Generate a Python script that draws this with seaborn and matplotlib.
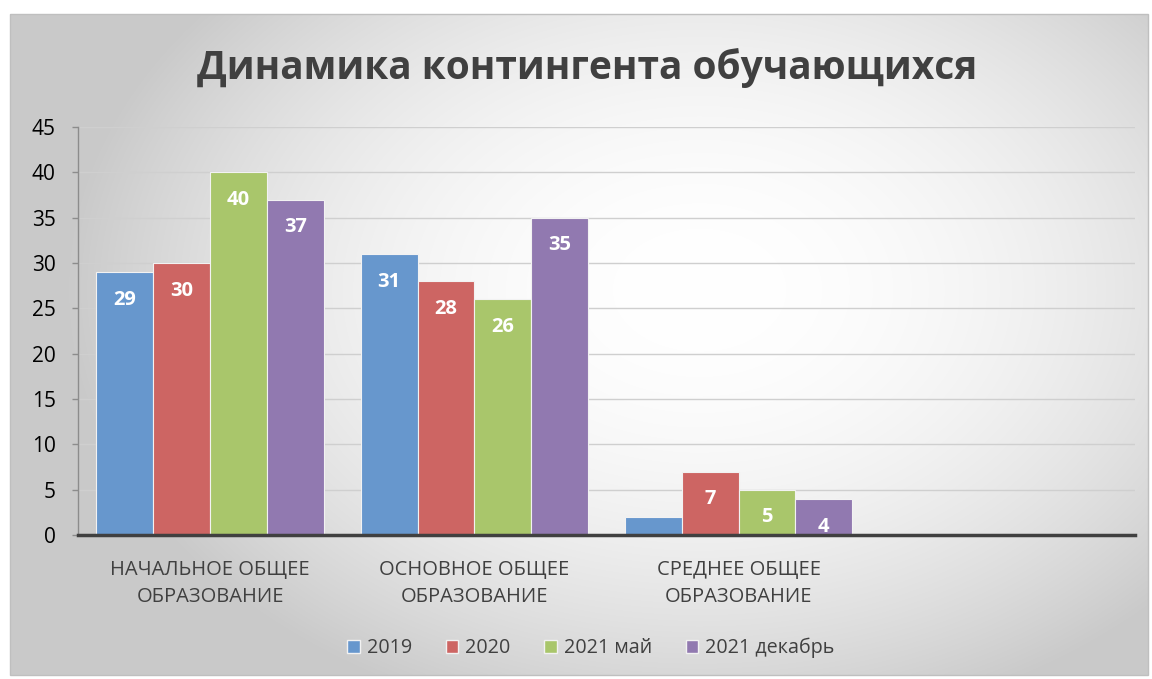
import numpy as np
import pandas as pd
import matplotlib
matplotlib.use("Agg")
import matplotlib.pyplot as plt
import seaborn as sns
from matplotlib.patches import Rectangle

categories = ["НАЧАЛЬНОЕ ОБЩЕЕ\nОБРАЗОВАНИЕ", "ОСНОВНОЕ ОБЩЕЕ\nОБРАЗОВАНИЕ",
              "СРЕДНЕЕ ОБЩЕЕ\nОБРАЗОВАНИЕ", " "]
series = ["2019", "2020", "2021 май", "2021 декабрь"]
v2019 = [29, 31, 2]
v2020 = [30, 28, 7]
v2021_may = [40, 26, 5]
v2021_dec = [37, 35, 4]
colors = ["#6797cd", "#cd6563", "#a9c66b", "#9179b0"]
title = "Динамика контингента обучающихся"

rows = []
for s, vals in zip(series, [v2019, v2020, v2021_may, v2021_dec]):
    for c, v in zip(categories[:3], vals):
        rows.append({"cat": c, "series": s, "value": v})
df = pd.DataFrame(rows)

sns.set_theme(style="white")
plt.rcParams["font.family"] = ["Open Sans", "DejaVu Sans"]

W, H = 1152, 679
fig = plt.figure(figsize=(W / 100, H / 100), dpi=100)
fig.patch.set_facecolor("white")

# gradient background of chart area
bg = fig.add_axes([0, 0, 1, 1], zorder=-10)
bg.set_axis_off()
x0, y0, x1, y1 = 10, 14, 1148, 675
xs = np.linspace(x0, x1, 400)
ys = np.linspace(y0, y1, 300)
X, Y = np.meshgrid(xs, ys)
r2 = ((X - 700) / 620) ** 2 + ((Y - 290) / 440) ** 2
val = np.clip(1 - 0.2 * r2, 0.79, 1.0)
img = np.dstack([val, val, val])
bg.imshow(img, extent=[x0 / W, x1 / W, 1 - y1 / H, 1 - y0 / H], origin="upper",
          aspect="auto", interpolation="bilinear")
bg.set_xlim(0, 1)
bg.set_ylim(0, 1)
bg.add_patch(Rectangle((x0 / W, 1 - y1 / H), (x1 - x0) / W, (y1 - y0) / H,
                       fill=False, edgecolor="#bfbfbf", lw=1))

ax = fig.add_axes([78 / W, 1 - 535 / H, (1135 - 78) / W, (535 - 127) / H])
ax.set_facecolor("none")
sns.barplot(data=df, x="cat", y="value", hue="series", order=categories,
            hue_order=series, palette=colors, width=0.86, ax=ax,
            edgecolor="#f2f2f2", linewidth=0.8, legend=False, saturation=1)

for cont in ax.containers:
    for rect in cont:
        h = rect.get_height()
        if h >= 3:
            ax.annotate(f"{h:.0f}", (rect.get_x() + rect.get_width() / 2, h),
                        xytext=(0, -20), textcoords="offset points",
                        ha="center", va="center", color="white",
                        fontsize=14.5, fontweight="bold")

ax.set_ylim(0, 45)
ax.set_xlim(-0.5, 3.5)
ax.set_yticks(np.arange(0, 46, 5))
ax.yaxis.grid(True, color="#cfcfcf", lw=1)
ax.set_axisbelow(True)
ax.set_xlabel("")
ax.set_ylabel("")
for s in ["top", "right"]:
    ax.spines[s].set_visible(False)
ax.spines["left"].set_color("#8c8c8c")
ax.spines["left"].set_linewidth(1)
ax.spines["bottom"].set_color("#404040")
ax.spines["bottom"].set_linewidth(2.5)
ax.tick_params(axis="y", left=True, length=4, width=1, color="#8c8c8c",
               labelsize=15, labelcolor="black", pad=12)
ax.tick_params(axis="x", bottom=False, labelsize=14.5, labelcolor="#404040", pad=12)
for lab in ax.get_xticklabels():
    lab.set_linespacing(1.45)

fig.text(587 / W, 1 - 68 / H, title, ha="center", va="center", fontsize=28,
         fontweight="bold", color="#404040")

handles = [Rectangle((0, 0), 1, 1, facecolor=c, edgecolor="#f2f2f2") for c in colors]
fig.legend(handles, series, loc="center", bbox_to_anchor=(591 / W, 1 - 648 / H),
           ncol=4, frameon=False, fontsize=14.2, handlelength=0.65, handleheight=0.65,
           columnspacing=1.7, handletextpad=0.35, labelcolor="#404040")

fig.savefig("out.png", dpi=100)
